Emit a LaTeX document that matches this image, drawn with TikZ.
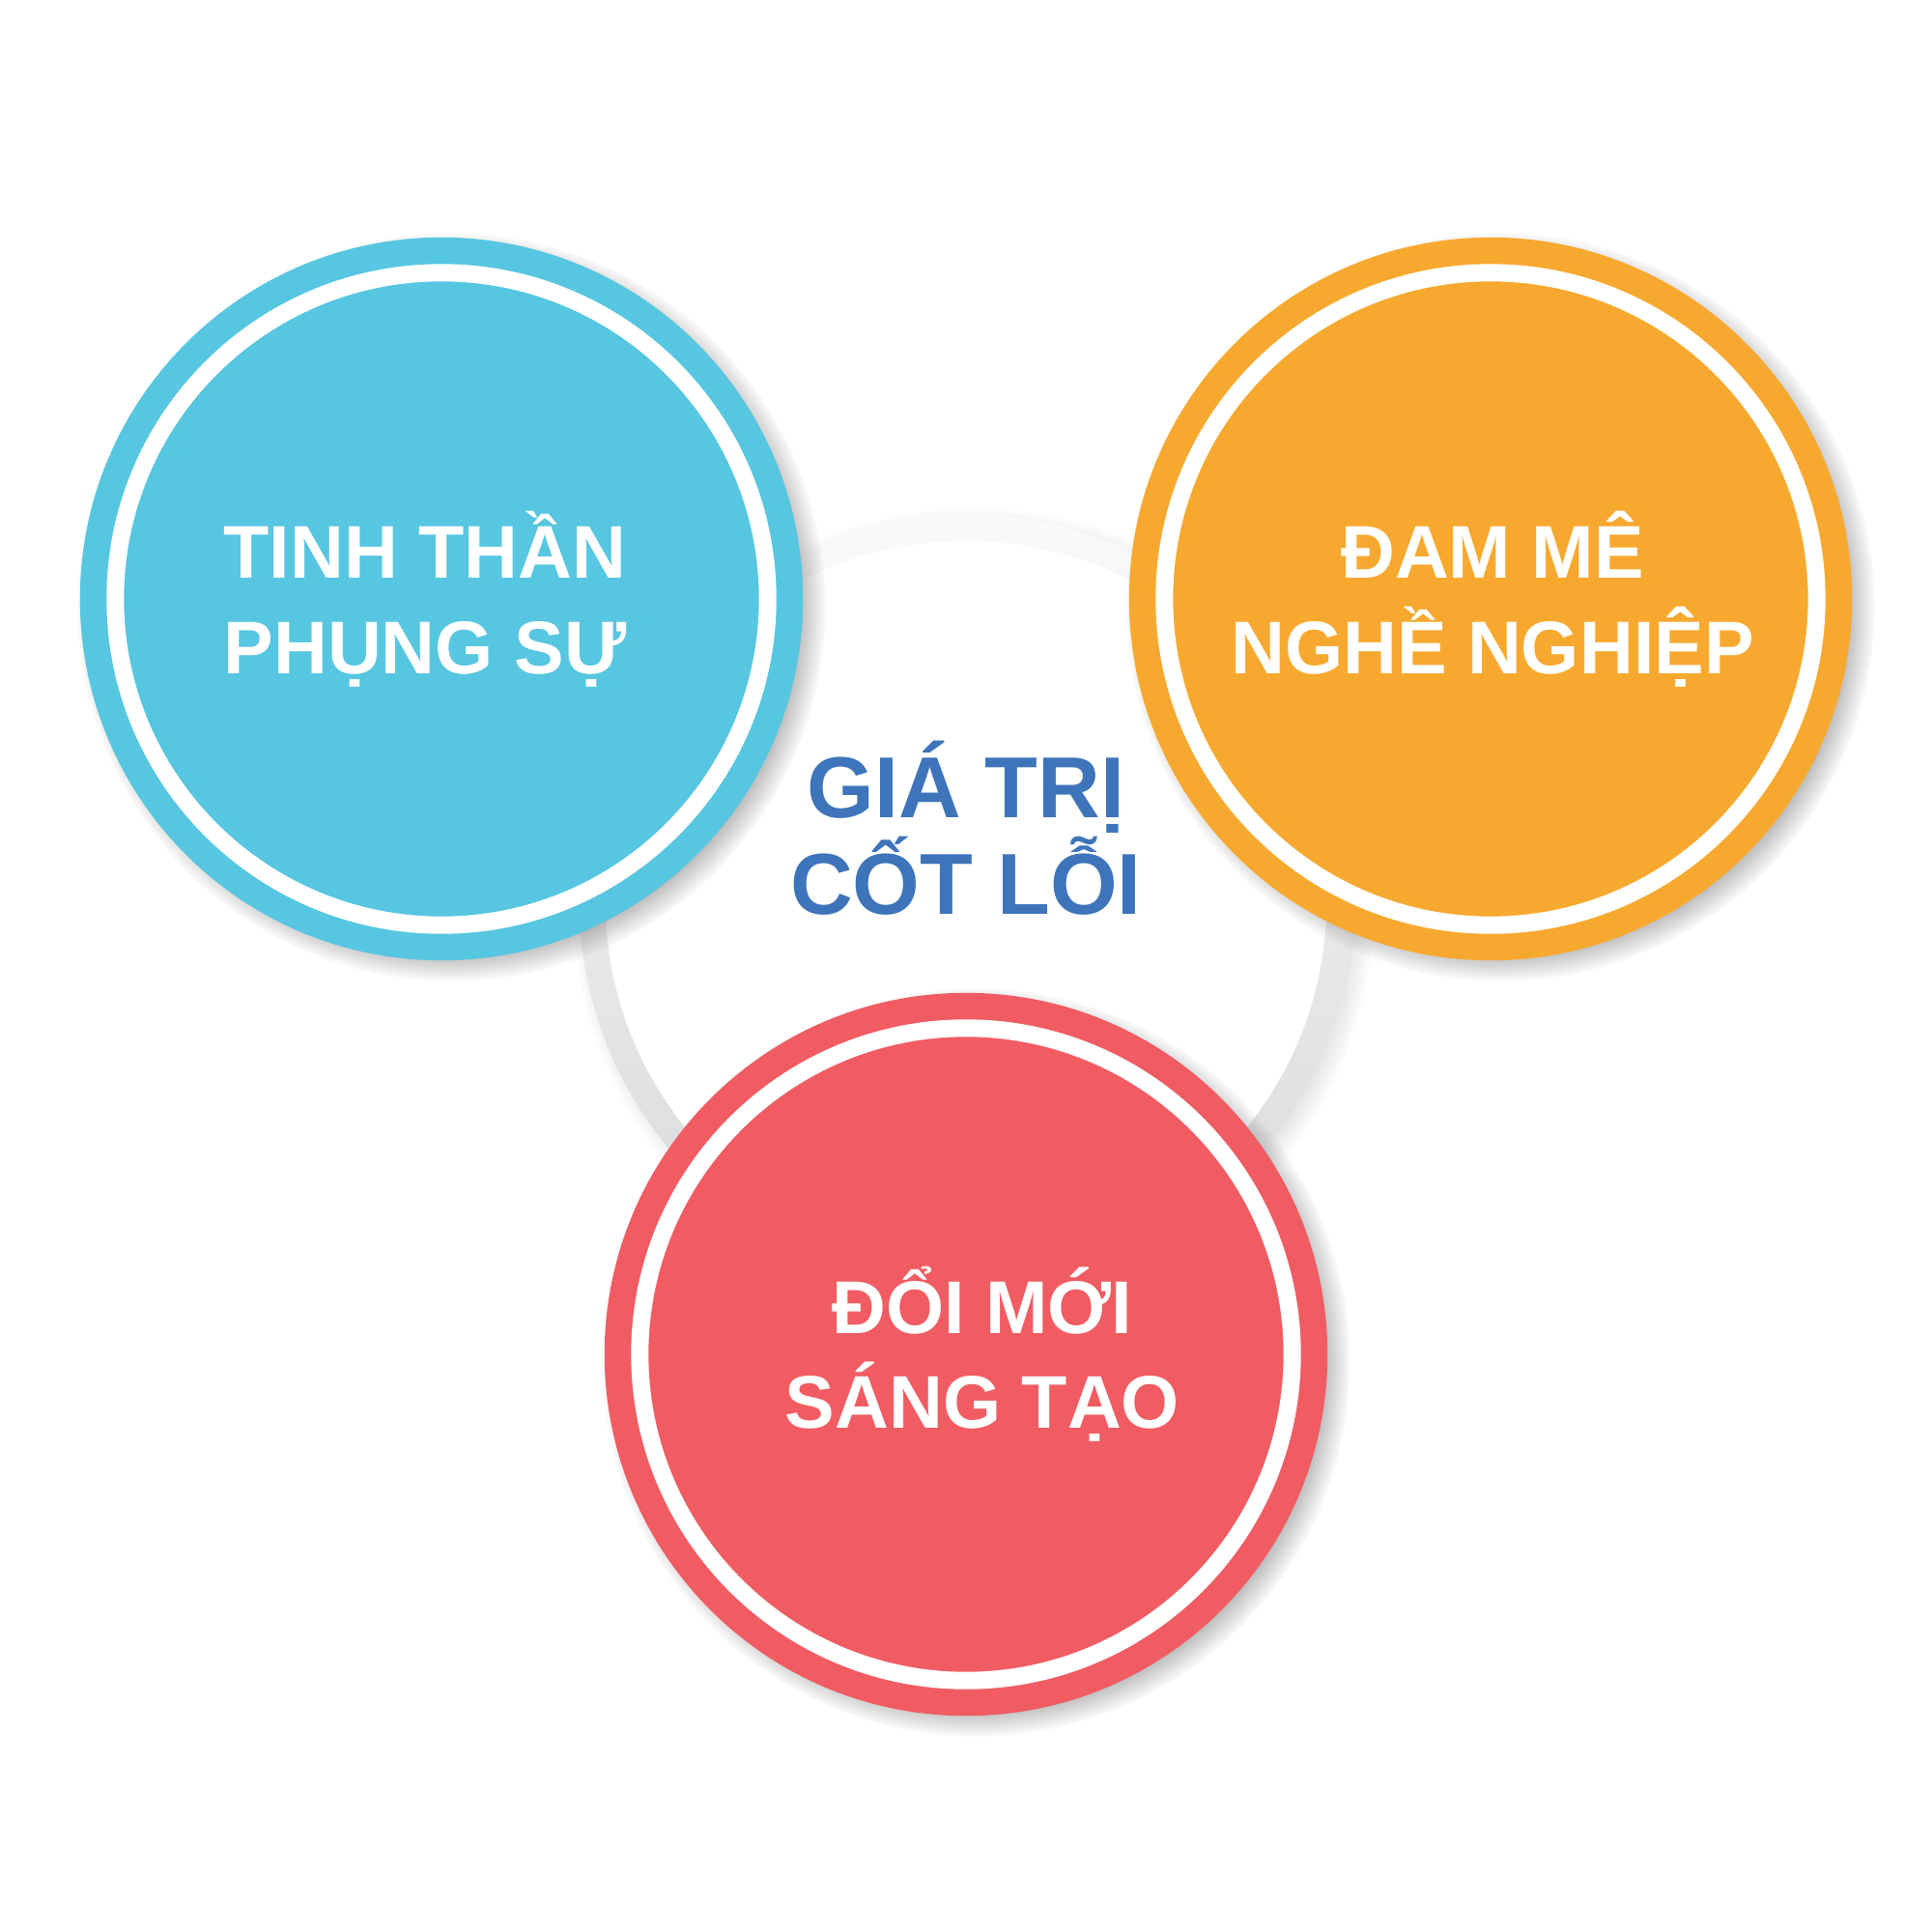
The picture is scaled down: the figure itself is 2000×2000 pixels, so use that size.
\documentclass[tikz,border=0pt]{standalone}
\usepackage{fontspec}
\setmainfont{Liberation Sans}
\usetikzlibrary{shadows,fadings}
\definecolor{cblue}{HTML}{57C6E0}
\definecolor{corange}{HTML}{F7A92F}
\definecolor{cred}{HTML}{F05C62}
\definecolor{ctext}{HTML}{3E74B9}
\begin{document}
\begin{tikzpicture}[x=0.01cm,y=-0.01cm,
  disc/.style={circle, minimum size=7.48cm, inner sep=0pt, fill=#1,
    circular drop shadow={shadow scale=1.035, shadow xshift=0.1cm, shadow yshift=-0.08cm, opacity=0.7,
      path fading={circle with fuzzy edge 10 percent}}},
  whitering/.style={draw=white, line width=0.18cm},
  lbl/.style={text=white, inner sep=0pt, anchor=base, font=\fontsize{22}{26}\selectfont\bfseries},
  corelbl/.style={text=ctext, inner sep=0pt, anchor=base, font=\fontsize{25.5}{30}\selectfont\bfseries}]
\useasboundingbox (0,0) rectangle (2000,2000);
\fill[white] (0,0) rectangle (2000,2000);
% central core
\node[circle, minimum size=8cm, inner sep=0pt, top color=black!2, middle color=black!11, bottom color=black!15,
  circular drop shadow={shadow scale=1.035, shadow xshift=0.07cm, shadow yshift=-0.07cm, opacity=0.35,
    path fading={circle with fuzzy edge 10 percent}}] (core) at (1000,933) {};
\node[circle, minimum size=7.46cm, inner sep=0pt, fill=white] (coreinner) at (core.center) {};
% coloured discs
\node[disc=cblue] (blue) at (457,620) {};
\draw[whitering] (blue.center) circle[radius=3.375cm];
\node[disc=corange] (orange) at (1543,620) {};
\draw[whitering] (orange.center) circle[radius=3.375cm];
\node[disc=cred] (red) at (1000,1402) {};
\draw[whitering] (red.center) circle[radius=3.375cm];
% labels
\node[lbl] (b1) at (440,598) {TINH THẦN};
\node[lbl] (b2) at (440,697) {PHỤNG SỰ};
\node[lbl] (o1) at (1545,598) {ĐAM MÊ};
\node[lbl] (o2) at (1545,697) {NGHỀ NGHIỆP};
\node[lbl] (r1) at (1017,1380) {ĐỔI MỚI};
\node[lbl] (r2) at (1017,1478) {SÁNG TẠO};
\node[corelbl] (c1) at (1000,846) {GIÁ TRỊ};
\node[corelbl] (c2) at (1000,946) {CỐT LỖI};
\end{tikzpicture}
\end{document}
